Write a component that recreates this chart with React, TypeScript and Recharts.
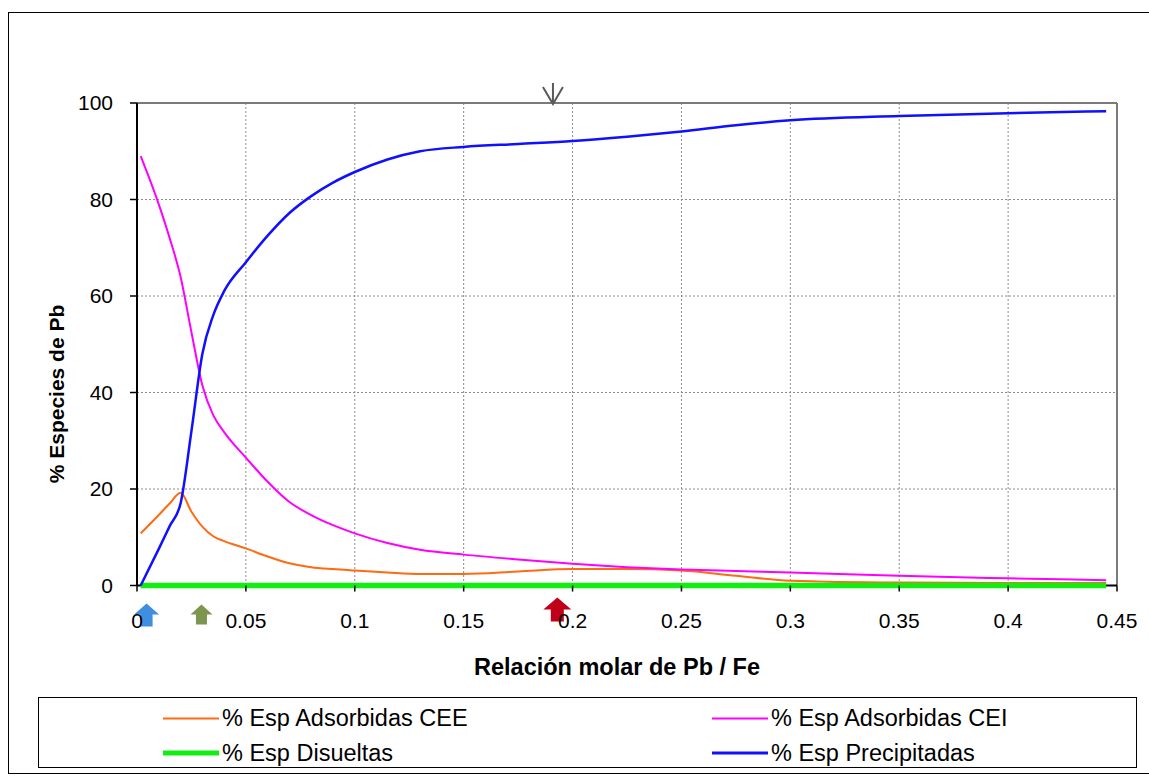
import React from "react";
import {
  LineChart,
  Line,
  XAxis,
  YAxis,
  CartesianGrid,
  ReferenceLine,
  ReferenceDot,
  Legend,
} from "recharts";

const FONT = '"Liberation Sans", Arial, sans-serif';

// Relación molar Pb / Fe
const ratio = [
  0.0017, 0.01, 0.015, 0.02, 0.025, 0.03, 0.035, 0.04, 0.05, 0.06, 0.07, 0.08, 0.09,
  0.1, 0.115, 0.13, 0.15, 0.175, 0.2, 0.225, 0.25, 0.275, 0.3, 0.35, 0.4, 0.445,
];
const adsorbCEE = [
  10.8, 14.6, 17.0, 19.2, 15.3, 12.2, 10.2, 9.2, 7.7, 6.0, 4.6, 3.8, 3.4,
  3.1, 2.7, 2.4, 2.4, 2.9, 3.4, 3.4, 3.1, 2.0, 1.0, 0.6, 0.5, 0.5,
];
const adsorbCEI = [
  89, 79, 72, 64, 52.5, 41.5, 35.3, 31.8, 26.5, 21.5, 17.3, 14.6, 12.5,
  10.8, 8.8, 7.4, 6.4, 5.4, 4.5, 3.8, 3.3, 3.0, 2.7, 2.0, 1.5, 1.1,
];
const disueltas = [
  0, 0, 0, 0, 0, 0, 0, 0, 0, 0, 0, 0, 0,
  0, 0, 0, 0, 0, 0, 0, 0, 0, 0, 0, 0, 0,
];
const precipitadas = [
  0, 7.6, 12.3, 17, 32, 48, 56, 61, 67, 72.5, 77.2, 80.7, 83.5,
  85.7, 88.3, 90, 90.9, 91.5, 92.1, 93, 94.1, 95.4, 96.4, 97.3, 97.9, 98.3,
];

const xTicks = [0, 0.05, 0.1, 0.15, 0.2, 0.25, 0.3, 0.35, 0.4, 0.45];
const yTicks = [0, 20, 40, 60, 80, 100];

// marked ratios (arrows)
const markBlue = 0.0044;
const markGreen = 0.0296;
const markRed = 0.193;
const markTop = 0.191;

const data = ratio.map((x, i) => ({
  x,
  cee: adsorbCEE[i],
  cei: adsorbCEI[i],
  dis: disueltas[i],
  pre: precipitadas[i],
}));

const series = [
  { key: "cee", name: "% Esp Adsorbidas CEE", color: "#ff6a13", width: 2 },
  { key: "cei", name: "% Esp Adsorbidas CEI", color: "#ff00ff", width: 2 },
  { key: "dis", name: "% Esp Disueltas", color: "#12ee12", width: 5.5 },
  { key: "pre", name: "% Esp Precipitadas", color: "#1010ff", width: 2.5 },
];

function upArrow(fill: string, headW: number, headH: number, shaftW: number, shaftH: number, gap: number) {
  return (props: any) => {
    const { cx, cy } = props;
    const t = cy + gap;
    const pts = [
      [cx, t],
      [cx + headW / 2, t + headH],
      [cx + shaftW / 2, t + headH],
      [cx + shaftW / 2, t + headH + shaftH],
      [cx - shaftW / 2, t + headH + shaftH],
      [cx - shaftW / 2, t + headH],
      [cx - headW / 2, t + headH],
    ]
      .map((p) => p.join(","))
      .join(" ");
    return <polygon points={pts} fill={fill} />;
  };
}

function downArrow(props: any) {
  const { cx, cy } = props;
  return (
    <g stroke="#5a5a5a" strokeWidth={2} fill="none">
      <line x1={cx} y1={cy - 20} x2={cx} y2={cy + 1} />
      <polyline points={`${cx - 10},${cy - 16} ${cx},${cy + 1} ${cx + 10},${cy - 16}`} />
    </g>
  );
}

function LegendBox({ payload }: any) {
  const items = payload || [];
  return (
    <div
      style={{
        position: "relative",
        width: "100%",
        height: "100%",
        border: "1.5px solid #000",
        boxSizing: "border-box",
        background: "#fff",
      }}
    >
      {items.map((p: any, i: number) => {
        const s = series.find((d) => d.key === p.dataKey) || series[i];
        const col = i % 2;
        const row = Math.floor(i / 2);
        return (
          <div
            key={s.key}
            style={{
              position: "absolute",
              left: col === 0 ? 124 : 673,
              top: row === 0 ? 20 : 55,
              transform: "translateY(-50%)",
              display: "flex",
              alignItems: "center",
              fontFamily: FONT,
              fontSize: 23.5,
              color: "#000",
              whiteSpace: "nowrap",
            }}
          >
            <span
              style={{
                display: "inline-block",
                width: 56,
                height: s.width,
                background: s.color,
                marginRight: 3,
              }}
            />
            {s.name}
          </div>
        );
      })}
    </div>
  );
}

export default function App() {
  const tickStyle = { fill: "#000", fontSize: 21, fontFamily: FONT };
  return (
    <div style={{ position: "absolute", left: 0, top: 0, width: 1149, height: 778, background: "#fff" }}>
      <div
        style={{
          position: "absolute",
          left: 8,
          top: 12,
          width: 1160,
          height: 762,
          border: "1.5px solid #000",
          boxSizing: "border-box",
        }}
      />
      <LineChart
        width={1149}
        height={778}
        data={data}
        margin={{ top: 103, right: 32, left: 77, bottom: 162.5 }}
      >
        <CartesianGrid stroke="#8c8c8c" strokeDasharray="2 2" />
        <XAxis
          dataKey="x"
          type="number"
          domain={[0, 0.45]}
          ticks={xTicks}
          tickFormatter={(v: number) => String(v)}
          height={30}
          tickSize={6}
          tickMargin={22}
          tick={tickStyle}
          axisLine={false}
          tickLine={{ stroke: "#000", strokeWidth: 1.5 }}
          interval={0}
        />
        <YAxis
          domain={[0, 100]}
          ticks={yTicks}
          width={60}
          tickSize={7}
          tickMargin={17}
          tick={tickStyle}
          axisLine={{ stroke: "#000", strokeWidth: 2 }}
          tickLine={{ stroke: "#000", strokeWidth: 1.5 }}
          interval={0}
        />
        <ReferenceLine y={100} stroke="#7a7a7a" strokeWidth={2} />
        <ReferenceLine x={0.45} stroke="#7a7a7a" strokeWidth={2} />
        <ReferenceLine y={0} stroke="#000" strokeWidth={2} />
        {series.map((s) => (
          <Line
            key={s.key}
            type="monotone"
            dataKey={s.key}
            name={s.name}
            stroke={s.color}
            strokeWidth={s.width}
            dot={false}
            activeDot={false}
            isAnimationActive={false}
          />
        ))}
        <ReferenceDot x={markBlue} y={0} ifOverflow="visible" shape={upArrow("#3f8ee0", 25, 11, 12, 12, 18)} />
        <ReferenceDot x={markGreen} y={0} ifOverflow="visible" shape={upArrow("#7c9650", 22, 10, 11, 10, 19)} />
        <ReferenceDot x={markRed} y={0} ifOverflow="visible" shape={upArrow("#c00018", 28, 12, 13, 12, 12)} />
        <ReferenceDot x={markTop} y={100} ifOverflow="visible" shape={downArrow} />
        <Legend
          layout="horizontal"
          verticalAlign="middle"
          align="center"
          content={<LegendBox />}
          wrapperStyle={{ left: 38, top: 697, width: 1099, height: 71 }}
        />
      </LineChart>
      <div
        style={{
          position: "absolute",
          left: 617,
          top: 667,
          transform: "translate(-50%, -50%)",
          fontFamily: FONT,
          fontWeight: "bold",
          fontSize: 23.5,
          whiteSpace: "nowrap",
        }}
      >
        Relación molar de Pb / Fe
      </div>
      <div
        style={{
          position: "absolute",
          left: 57,
          top: 394,
          transform: "translate(-50%, -50%) rotate(-90deg)",
          fontFamily: FONT,
          fontWeight: "bold",
          fontSize: 21,
          whiteSpace: "nowrap",
        }}
      >
        % Especies de Pb
      </div>
    </div>
  );
}
